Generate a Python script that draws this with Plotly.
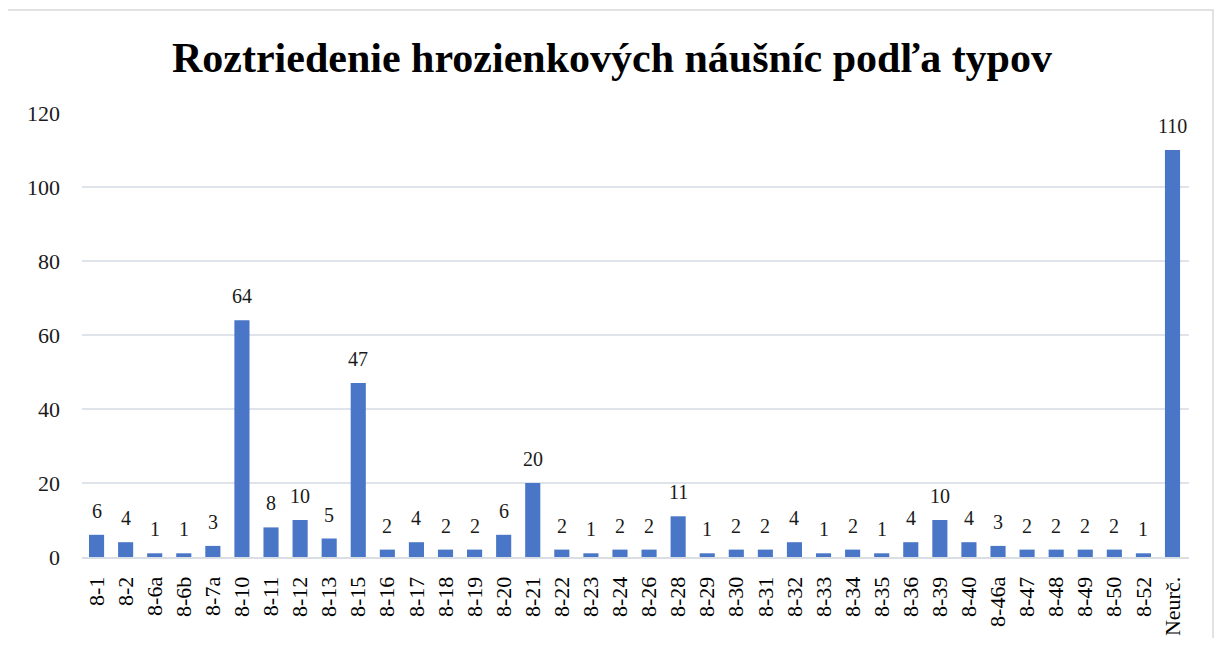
import plotly.graph_objects as go

categories = ["8-1", "8-2", "8-6a", "8-6b", "8-7a", "8-10", "8-11", "8-12", "8-13", "8-15",
              "8-16", "8-17", "8-18", "8-19", "8-20", "8-21", "8-22", "8-23", "8-24", "8-26",
              "8-28", "8-29", "8-30", "8-31", "8-32", "8-33", "8-34", "8-35", "8-36", "8-39",
              "8-40", "8-46a", "8-47", "8-48", "8-49", "8-50", "8-52", "Neurč."]
values = [6, 4, 1, 1, 3, 64, 8, 10, 5, 47,
          2, 4, 2, 2, 6, 20, 2, 1, 2, 2,
          11, 1, 2, 2, 4, 1, 2, 1, 4, 10,
          4, 3, 2, 2, 2, 2, 1, 110]
y_ticks = [0, 20, 40, 60, 80, 100, 120]
title_text = "Roztriedenie hrozienkových náušníc podľa typov"

FONT = "Liberation Serif, Times New Roman, serif"

fig = go.Figure(go.Bar(
    x=categories, y=values,
    marker=dict(color="#4a76c8", line=dict(width=0)),
    cliponaxis=False,
))

# data labels
for c, v in zip(categories, values):
    fig.add_annotation(x=c, y=v, text=str(v), showarrow=False,
                       xanchor="center", yanchor="bottom", yshift=11,
                       font=dict(family=FONT, size=20, color="#1a1a1a"))

OFF = 8  # page body margin
W, H = 1223 - 2 * OFF, 646 - 2 * OFF
L, T = 82 - OFF, 113 - OFF
pw, ph = 1107, 444
R = W - L - pw
B = H - T - ph

fig.update_layout(
    width=W, height=H,
    margin=dict(l=L, r=R, t=T, b=B, autoexpand=False),
    paper_bgcolor="white", plot_bgcolor="white",
    bargap=0.48,
    showlegend=False,
    title=dict(text="<b>" + title_text + "</b>", x=(612 - OFF) / W, xanchor="center",
               y=1 - (57 - OFF) / H, yanchor="middle",
               font=dict(family=FONT, size=42, color="black")),
    xaxis=dict(type="category", tickangle=-90, showgrid=False,
               showline=True, linecolor="#d9dde4", linewidth=2,
               ticklabelstandoff=9,
               tickfont=dict(family=FONT, size=22, color="black")),
    yaxis=dict(range=[0, 120], tickvals=y_ticks, showgrid=True,
               gridcolor="#dfe3ea", gridwidth=2, zeroline=False,
               showline=False, ticklabelstandoff=21,
               tickfont=dict(family=FONT, size=22, color="#1a1a1a")),
    shapes=[dict(type="rect", xref="paper", yref="paper",
                 x0=(7 - OFF - L) / pw, x1=(1213 - OFF - L) / pw,
                 y0=(H - B - (646 - OFF)) / ph, y1=(H - B - (10 - OFF)) / ph,
                 line=dict(color="#d9d9d9", width=1.5), layer="below")],
)

fig.write_html("out.html")
